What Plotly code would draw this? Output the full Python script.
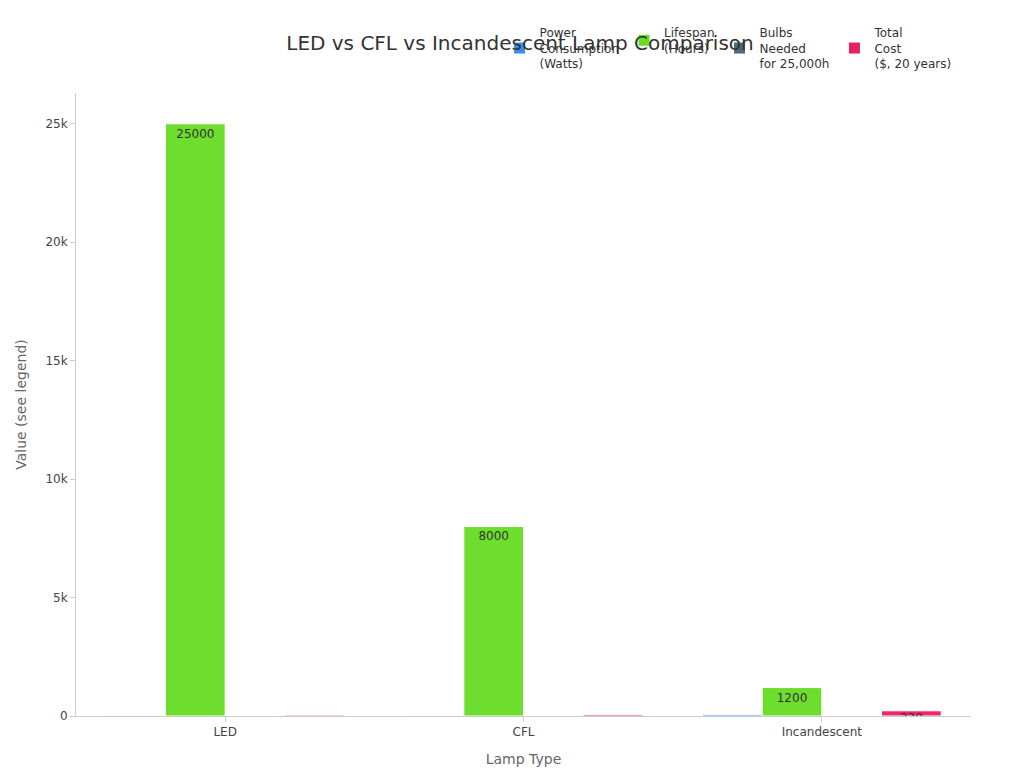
import plotly.graph_objects as go

lamps = ["LED", "CFL", "Incandescent"]
power = [10, 14, 60]
lifespan = [25000, 8000, 1200]
bulbs = [1, 3, 21]
cost = [40, 60, 220]

names = ["Power<br>Consumption<br>(Watts)", "Lifespan<br>(Hours)", "Bulbs<br>Needed<br>for 25,000h", "Total<br>Cost<br>($, 20 years)"]
colors = ["#3A8EE6", "#66DD22", "#4F6A75", "#E91E63"]
series = [power, lifespan, bulbs, cost]

fig = go.Figure()
for n, c, v in zip(names, colors, series):
    fig.add_bar(x=lamps, y=v, name=n, marker=dict(color=c, opacity=0.95, line=dict(color="white", width=1)),
                text=v, textposition="inside", textangle=0, insidetextanchor="end",
                textfont=dict(color="#333", size=12))

fig.update_layout(
    width=1024, height=768, barmode="group", bargap=0.2, bargroupgap=0,
    paper_bgcolor="white", plot_bgcolor="white",
    font=dict(family="DejaVu Sans", color="#444", size=12),
    title=dict(text="LED vs CFL vs Incandescent Lamp Comparison", x=0.5, xanchor="center", y=0.955, yanchor="middle", font=dict(size=20, color="#333")),
    legend=dict(orientation="h", x=0.985, xanchor="right", y=1.072, yanchor="middle", font=dict(size=12, color="#333")),
    margin=dict(l=68, r=61, t=85, b=60, autoexpand=False),
    uniformtext=dict(minsize=6, mode="show"),
)
fig.update_xaxes(automargin=False, title=dict(text="Lamp Type", font=dict(size=14, color="#666")), showline=True, linecolor="#ccc", ticks="outside", tickcolor="#ccc", showgrid=False)
fig.update_yaxes(automargin=False, title=dict(text="Value (see legend)", font=dict(size=14, color="#666")), range=[0, 26300], tickvals=[0, 5000, 10000, 15000, 20000, 25000], ticktext=["0", "5k", "10k", "15k", "20k", "25k"], showline=True, linecolor="#ccc", ticks="outside", tickcolor="#ccc", showgrid=False, zeroline=False)
fig.write_html("out.html")
